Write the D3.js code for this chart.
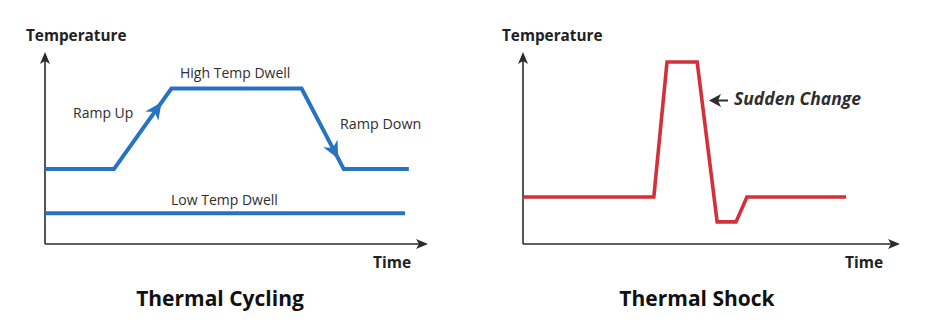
<!DOCTYPE html>
<html><head><meta charset="utf-8">
<script src="https://cdn.jsdelivr.net/npm/d3@7"></script>
<style>body{margin:0;background:#fff}svg{display:block}</style>
</head><body>
<script>
// ---- data ----
const cycleTime = [0, 18, 33, 67, 78, 95];
const cycleTemp = [39, 39, 81, 81, 39, 39];
const lowTime = [0, 94];
const lowTemp = [16, 16];
const shockTime = [0, 34.7, 38.2, 46.2, 51.5, 56.5, 59.4, 85.7];
const shockTemp = [24.5, 24.5, 94.8, 94.8, 11.5, 11.5, 24.5, 24.5];
const titles = ["Thermal Cycling", "Thermal Shock"];
const yLabel = "Temperature";
const xLabel = "Time";

const W = 927, H = 329;
const svg = d3.select("body").append("svg").attr("width", W).attr("height", H);
const FONT = "'Open Sans', 'Noto Sans', sans-serif";
const AX = "#2b2b2b", TXT = "#2e2e2e";
const BLUE = "#2773c3", RED = "#d2303b";

function panel(x0, x1, yTop, yBot) {
  const x = d3.scaleLinear().domain([0, 100]).range([x0, x1]);
  const y = d3.scaleLinear().domain([0, 100]).range([yBot, yTop]);
  const g = svg.append("g");
  g.append("line").attr("x1", x0).attr("x2", x0).attr("y1", yBot).attr("y2", yTop + 8)
    .attr("stroke", AX).attr("stroke-width", 1.6);
  g.append("line").attr("x1", x0).attr("x2", x1 - 8).attr("y1", yBot).attr("y2", yBot)
    .attr("stroke", AX).attr("stroke-width", 1.6);
  g.append("path").attr("d", `M${x0},${yTop} L${x0 + 5},${yTop + 12} L${x0},${yTop + 9} L${x0 - 5},${yTop + 12} Z`).attr("fill", AX);
  g.append("path").attr("d", `M${x1},${yBot} L${x1 - 12},${yBot - 5} L${x1 - 9},${yBot} L${x1 - 12},${yBot + 5} Z`).attr("fill", AX);
  return {x, y, g};
}

function arrowHead(g, p, q, t, color, len, half) {
  const dx = q[0] - p[0], dy = q[1] - p[1];
  const L = Math.hypot(dx, dy), ux = dx / L, uy = dy / L, nx = -uy, ny = ux;
  const tx = p[0] + dx * t, ty = p[1] + dy * t;
  const bx = tx - ux * len, by = ty - uy * len;
  const nxp = tx - ux * len * 0.7, nyp = ty - uy * len * 0.7;
  g.append("path")
    .attr("d", `M${tx},${ty} L${bx + nx * half},${by + ny * half} L${nxp},${nyp} L${bx - nx * half},${by - ny * half} Z`)
    .attr("fill", color);
}

// ---------- left panel ----------
const L = panel(45, 428, 52, 244);
const line = (px, py) => d3.line().x(d => px(d[0])).y(d => py(d[1]));
const cyc = cycleTime.map((t, i) => [t, cycleTemp[i]]);
L.g.append("path").datum(cyc).attr("d", line(L.x, L.y)).attr("fill", "none")
  .attr("stroke", BLUE).attr("stroke-width", 4).attr("stroke-linejoin", "miter");
const low = lowTime.map((t, i) => [t, lowTemp[i]]);
L.g.append("path").datum(low).attr("d", line(L.x, L.y)).attr("fill", "none")
  .attr("stroke", BLUE).attr("stroke-width", 4);
const P = cyc.map(d => [L.x(d[0]), L.y(d[1])]);
arrowHead(L.g, P[1], P[2], 0.83, BLUE, 17, 8);
arrowHead(L.g, P[3], P[4], 0.87, BLUE, 17, 8);

const lab = (g, x, y, s, opt = {}) => g.append("text").attr("x", x).attr("y", y).text(s)
  .attr("font-family", FONT).attr("font-size", opt.size || 14).attr("fill", opt.fill || TXT)
  .attr("font-weight", opt.weight || 400).attr("font-style", opt.style || "normal")
  .attr("text-anchor", opt.anchor || "start");
lab(L.g, 73, 118, "Ramp Up");
lab(L.g, 180, 78, "High Temp Dwell");
lab(L.g, 340, 129, "Ramp Down", {size: 14.3});
lab(L.g, 171, 205, "Low Temp Dwell");
lab(L.g, 26, 41, yLabel, {size: 15.3, weight: 700, fill: "#222"});
lab(L.g, 373, 268, xLabel, {size: 15.5, weight: 700, fill: "#222"});
lab(L.g, 220, 306, titles[0], {size: 21, weight: 700, fill: "#111", anchor: "middle"});

// ---------- right panel ----------
const R = panel(523, 900, 52, 244);
const shock = shockTime.map((t, i) => [t, shockTemp[i]]);
R.g.append("path").datum(shock).attr("d", line(R.x, R.y)).attr("fill", "none")
  .attr("stroke", RED).attr("stroke-width", 3.6).attr("stroke-linejoin", "miter");
R.g.append("line").attr("x1", 728).attr("x2", 716).attr("y1", 100.5).attr("y2", 100.5)
  .attr("stroke", TXT).attr("stroke-width", 2);
R.g.append("path").attr("d", "M709,100.5 L721,94 L718,100.5 L721,107 Z").attr("fill", TXT);
lab(R.g, 734, 105, "Sudden Change", {size: 17.5, weight: 700, style: "italic"});
lab(R.g, 502, 41, yLabel, {size: 15.3, weight: 700, fill: "#222"});
lab(R.g, 845, 268, xLabel, {size: 15.5, weight: 700, fill: "#222"});
lab(R.g, 697, 306, titles[1], {size: 21, weight: 700, fill: "#111", anchor: "middle"});
</script>
</body></html>
